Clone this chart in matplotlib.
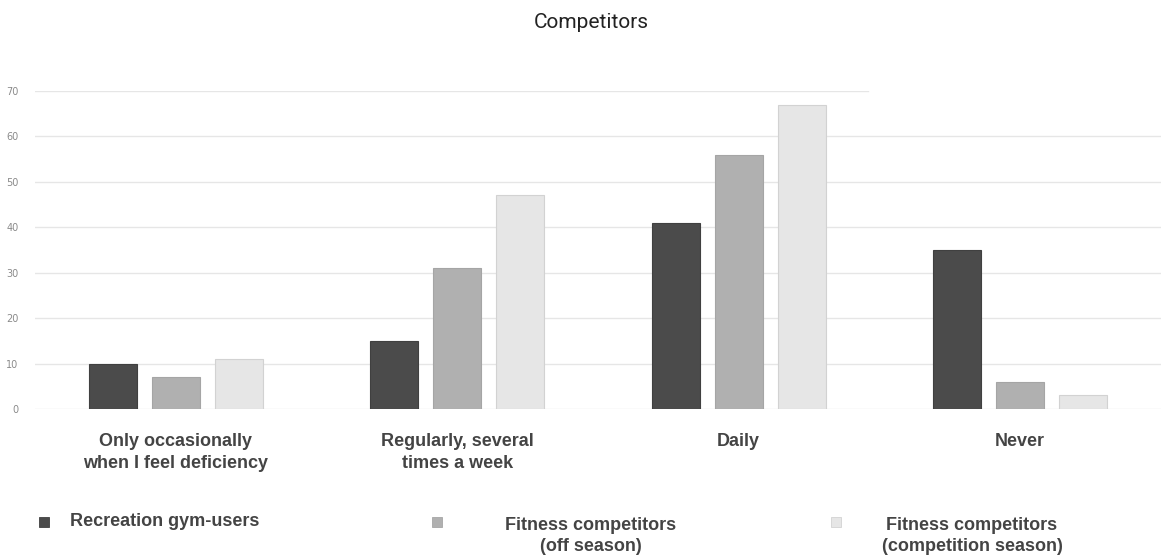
import matplotlib.pyplot as plt
from matplotlib.patches import Rectangle
import numpy as np

# data
categories = ["Only occasionally\nwhen I feel deficiency", "Regularly, several\ntimes a week", "Daily", "Never"]
series_names = ["Recreation gym-users", "Fitness competitors\n(off season)", "Fitness competitors\n(competition season)"]
recreation = [10, 15, 41, 35]
off_season = [7, 31, 56, 6]
comp_season = [11, 47, 67, 3]
yticks = [0, 10, 20, 30, 40, 50, 60, 70]

colors = ["#4b4b4b", "#b0b0b0", "#e6e6e6"]
edges = ["#404040", "#a5a5a5", "#d2d2d2"]

fig = plt.figure(figsize=(11.61, 5.6), dpi=100)
ax = fig.add_axes([35 / 1161, 151 / 560, 1126 / 1161, 318 / 560])

x = np.arange(len(categories))
width = 0.17
step = 0.224
for i, vals in enumerate([recreation, off_season, comp_season]):
    ax.bar(x + (i - 1) * step, vals, width, color=colors[i], edgecolor=edges[i],
           linewidth=0.8, zorder=3)

# grid lines (the top one is cut short in the original)
for t in yticks:
    xmax = 0.74 if t == 70 else 1.0
    ax.axhline(t, xmin=0, xmax=xmax, color="#e6e6e6", linewidth=1, zorder=1)

ax.set_xlim(-0.5, 3.5)
ax.set_ylim(0, 70)
ax.set_yticks(yticks)
ax.set_yticklabels([str(t) for t in yticks], fontsize=7, color="#8a8a8a")
ax.tick_params(axis="y", length=0, pad=12)
ax.set_xticks(x)
ax.set_xticklabels(categories, fontsize=13, fontweight="bold", color="#444444",
                   family="Liberation Sans", linespacing=1.45)
ax.tick_params(axis="x", length=0, pad=17)
for s in ax.spines.values():
    s.set_visible(False)

fig.text(591 / 1161, 1 - 22 / 560, "Competitors", ha="center", va="center",
         fontsize=15, family="Roboto", color="#222222")

# legend drawn by hand
leg_sq = [44, 437, 836]
leg_txt = [(70, "left"), (591, "center"), (972, "center")]
for i in range(3):
    fig.add_artist(Rectangle(((leg_sq[i] - 5) / 1161, (560 - 527) / 560), 10 / 1161, 10 / 560,
                             transform=fig.transFigure, facecolor=colors[i],
                             edgecolor=edges[i], linewidth=0.6))
    tx, ha = leg_txt[i]
    ty = 522 if i == 0 else 536
    fig.text(tx / 1161, 1 - ty / 560, series_names[i], ha=ha, va="center",
             fontsize=13, fontweight="bold", color="#444444",
             family="Liberation Sans", multialignment="center", linespacing=1.3)

fig.savefig("out.png", dpi=100)
